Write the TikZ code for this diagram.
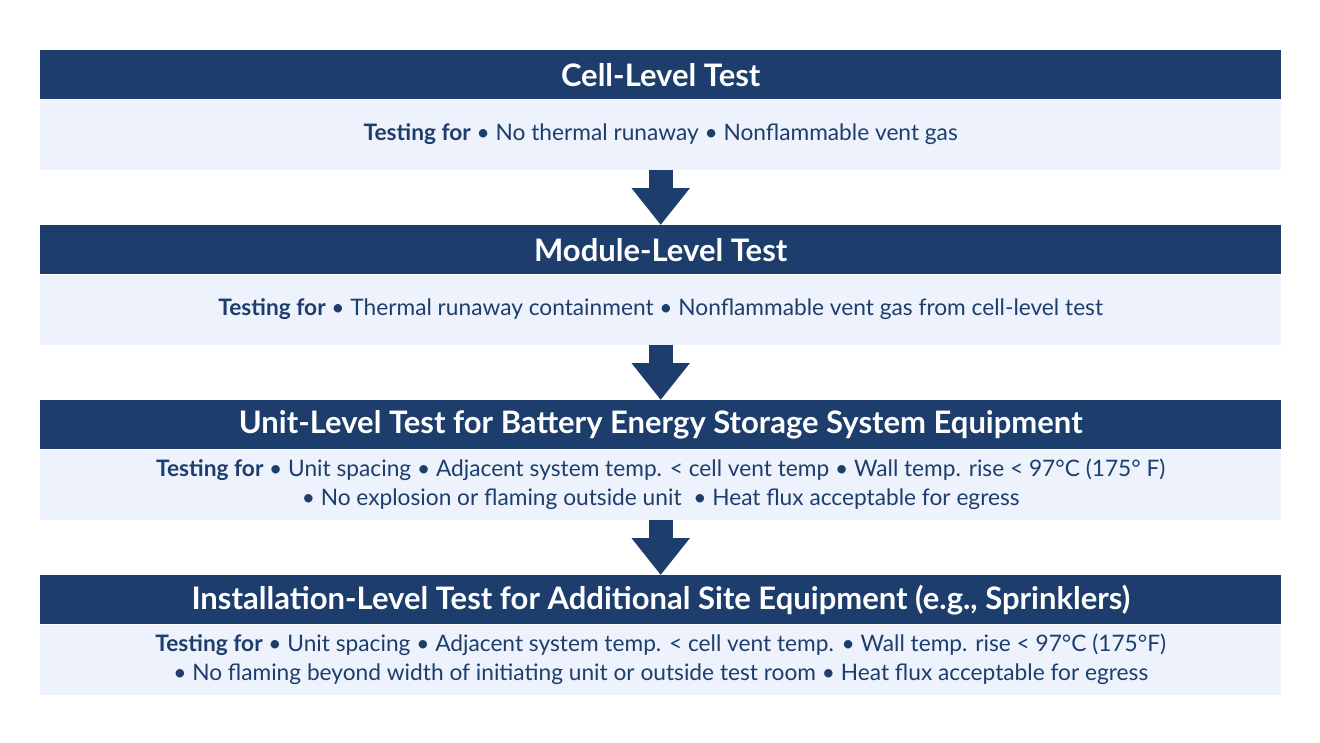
\documentclass[tikz,border=0pt]{standalone}
\usepackage{fontspec}
\setmainfont{Lato}
\usetikzlibrary{positioning,arrows.meta}
\definecolor{navy}{HTML}{1D3E6D}
\definecolor{pale}{HTML}{EDF2FC}
\begin{document}
\begin{tikzpicture}[x=1pt,y=-1pt,
    head/.style={fill=navy, text=white, minimum width=1241pt, minimum height=49pt,
                 inner sep=0pt, font=\fontsize{31}{34}\selectfont\bfseries},
    body/.style={fill=pale, text=navy, minimum width=1241pt, minimum height=70pt,
                 inner sep=0pt, align=center, font=\fontsize{22.7}{29}\selectfont},
    step arrow/.style={navy, line width=24pt, -{Triangle[width=56pt,length=37pt]}}]
\def\bx{40} % left edge of the boxes
\def\ys{175} % distance between two headers
\useasboundingbox (0,0) rectangle (1320,742);

\node [head, anchor=north west] (h1) at (\bx, 50) {Cell-Level Test};
\node [body, below=0pt of h1] (b1) {\textbf{Testing for} • No thermal runaway • Nonflammable vent gas};

\node [head, anchor=north west] (h2) at (\bx, 50+\ys) {Module-Level Test};
\node [body, below=0pt of h2] (b2) {\textbf{Testing for} • Thermal runaway containment • Nonflammable vent gas from cell-level test};

\node [head, anchor=north west] (h3) at (\bx, 50+2*\ys) {Unit-Level Test for Battery Energy Storage System Equipment};
\node [body, below=0pt of h3] (b3) {\textbf{Testing for} • Unit spacing • Adjacent system temp. < cell vent temp • Wall temp. rise < 97°C (175° F)\\
    • No explosion or flaming outside unit \ • Heat flux acceptable for egress};

\node [head, anchor=north west] (h4) at (\bx, 50+3*\ys) {Installation-Level Test for Additional Site Equipment (e.g., Sprinklers)};
\node [body, below=0pt of h4] (b4) {\textbf{Testing for} • Unit spacing • Adjacent system temp. < cell vent temp. • Wall temp. rise < 97°C (175°F)\\
    • No flaming beyond width of initiating unit or outside test room • Heat flux acceptable for egress};

% arrows between the levels
\foreach \i/\j in {1/2,2/3,3/4}
    \draw [step arrow] (b\i.south) -- (h\j.north);

\end{tikzpicture}
\end{document}
